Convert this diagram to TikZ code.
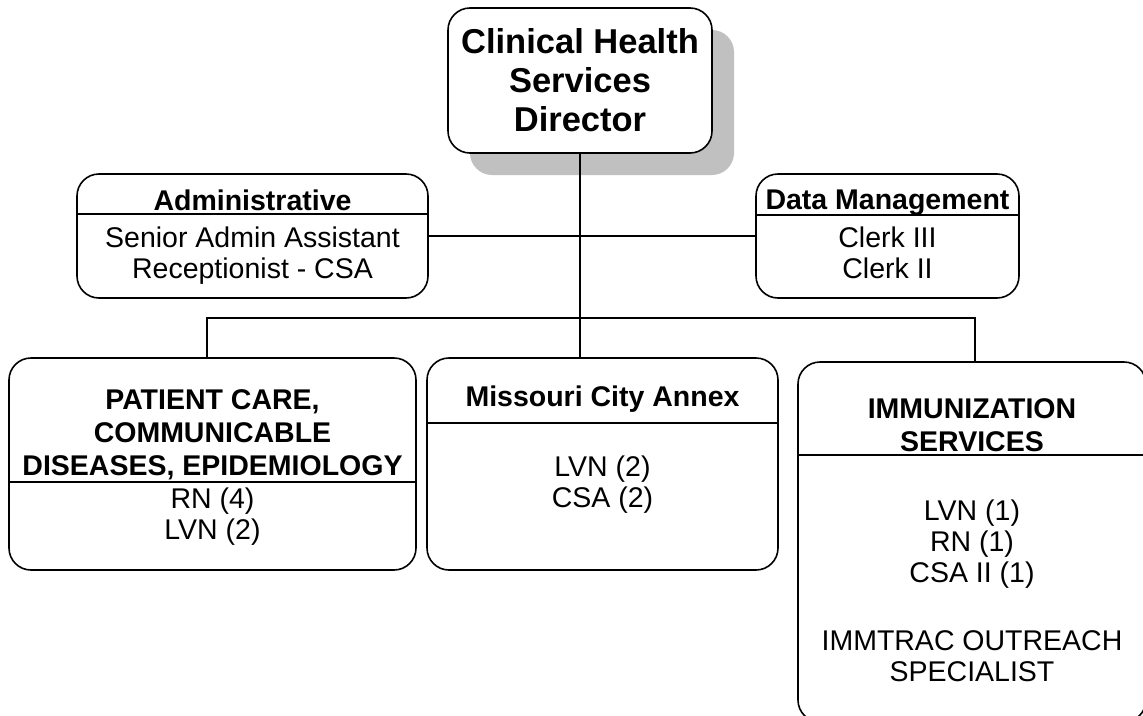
\documentclass[tikz,border=0pt]{standalone}
\usepackage{fontspec}
\setmainfont{Liberation Sans}
\usetikzlibrary{positioning}
\definecolor{shadowgray}{RGB}{192,192,192}

\begin{document}
\begin{tikzpicture}
    [x=1pt, y=-1pt,
     box/.style={draw, line width=1.6pt, rounded corners=22pt, inner sep=0pt},
     head/.style={font=\fontsize{28.5}{33}\selectfont\bfseries, align=center},
     staff/.style={font=\fontsize{28.5}{31}\selectfont, align=center},
     link/.style={line width=1.6pt}]

    \path[use as bounding box, clip] (0,0) rectangle (1143,715);

    \node[box, draw=none, fill=shadowgray, minimum width=264pt, minimum height=145pt] (shadow) at (602,102.5) {};
    \node[box, fill=white, minimum width=264pt, minimum height=145pt,
          font=\fontsize{34.5}{39}\selectfont\bfseries, align=center] (director) at (580,80.5)
      {Clinical Health\\Services\\Director};

    \node[box, minimum width=351pt, minimum height=124pt] (admin) at (252.5,236) {};
    \draw[link] (admin.west |- 0,214) -- (admin.east |- 0,214);
    \node[head] (adminhead) at (252.5,200) {Administrative};
    \node[staff] (adminstaff) at (252.5,256) {Senior Admin Assistant\\Receptionist - CSA};

    \node[box, minimum width=263pt, minimum height=124pt] (data) at (887.5,236) {};
    \draw[link] (data.west |- 0,215) -- (data.east |- 0,215);
    \node[head] (datahead) at (887.5,202.5) {Data Management};
    \node[staff] (datastaff) at (887.5,253) {Clerk III\\Clerk II};

    \node[box, minimum width=407pt, minimum height=212pt] (patient) at (212.5,464) {};
    \draw[link] (patient.west |- 0,482) -- (patient.east |- 0,482);
    \node[head] (patienthead) at (212.5,434.5) {PATIENT CARE,\\COMMUNICABLE\\DISEASES, EPIDEMIOLOGY};
    \node[staff] (patientstaff) at (212.5,517) {RN (4)\\LVN (2)};

    \node[box, minimum width=351pt, minimum height=212pt] (annex) at (602.5,464) {};
    \draw[link] (annex.west |- 0,423) -- (annex.east |- 0,423);
    \node[head] (annexhead) at (602.5,399.5) {Missouri City Annex};
    \node[staff] (annexstaff) at (602.5,484.5) {LVN (2)\\CSA (2)};

    \node[box, minimum width=348pt, minimum height=360pt] (immun) at (972,542) {};
    \draw[link] (immun.west |- 0,455) -- (immun.east |- 0,455);
    \node[head] (immunhead) at (972,425.5) {IMMUNIZATION\\SERVICES};
    \node[staff] (immunstaff) at (972,591)
      {LVN (1)\\RN (1)\\CSA II (1)\\[37pt]IMMTRAC OUTREACH\\SPECIALIST};

    \coordinate (bus) at (director.south |- 0,318);
    \draw[link] (director.south) -- (director.south |- annex.north);
    \draw[link] (admin.east) -- (data.west);
    \draw[link] ([xshift=-5.5pt]patient.north) |- (bus) -| ([xshift=3pt]immun.north);
\end{tikzpicture}
\end{document}
